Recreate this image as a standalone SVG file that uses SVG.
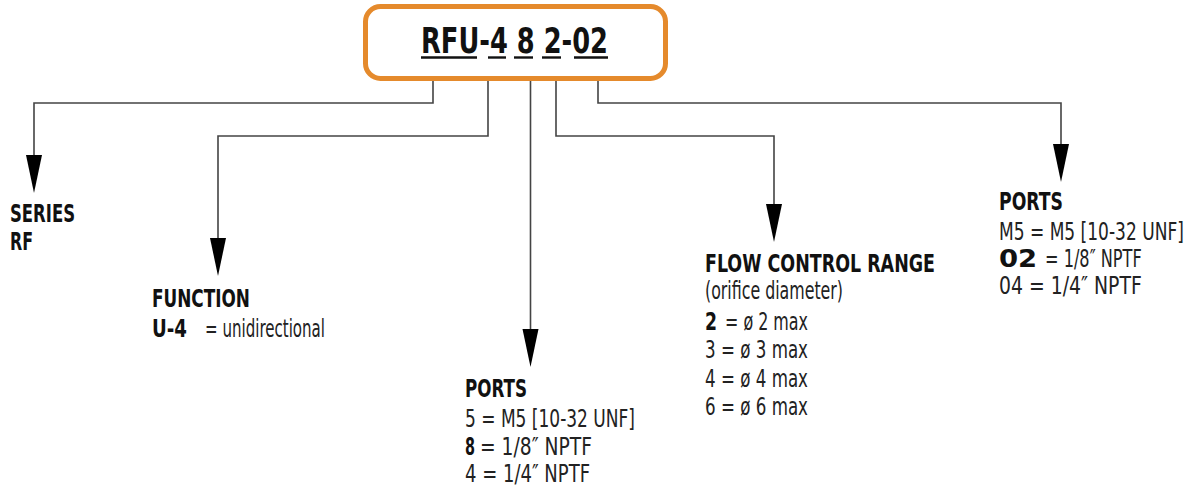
<svg xmlns="http://www.w3.org/2000/svg" width="1199" height="493" viewBox="0 0 1199 493">
<style>
text{font-family:"Liberation Sans Narrow","DejaVu Sans Condensed","Liberation Sans",sans-serif;font-size:24.5px;fill:#111}
.b{font-weight:bold}
.r{font-weight:normal;fill:#222}
.t{font-weight:bold;font-size:36px;fill:#111}
.conn{fill:none;stroke:#444;stroke-width:1.6}
.ul{stroke:#111;stroke-width:2.4}
</style>
<defs>
<marker id="ah" markerUnits="userSpaceOnUse" markerWidth="40" markerHeight="18" viewBox="0 -9 40 18" refX="18" refY="0" orient="auto">
<path d="M0,-8 L38,0 L0,8 Z" fill="#000"/>
</marker>
</defs>
<rect width="1199" height="493" fill="#fff"/>
<g id="connectors">
<path class="conn" d="M433,80 V103 H34 V173" marker-end="url(#ah)"/>
<path class="conn" d="M488,80 V136 H218 V256" marker-end="url(#ah)"/>
<path class="conn" d="M530.5,80 V347" marker-end="url(#ah)"/>
<path class="conn" d="M556,80 V136 H774 V222" marker-end="url(#ah)"/>
<path class="conn" d="M598,80 V103 H1061 V162" marker-end="url(#ah)"/>
</g>
<g id="title">
<rect x="365.5" y="6.5" width="300" height="72" rx="15" fill="#fff" stroke="#E58A2C" stroke-width="5"/>
<text class="t" x="421" y="53" textLength="187" lengthAdjust="spacingAndGlyphs">RFU-4 8 2-02</text>
<line class="ul" x1="421" y1="57.5" x2="477" y2="57.5"/>
<line class="ul" x1="488" y1="57.5" x2="506" y2="57.5"/>
<line class="ul" x1="514" y1="57.5" x2="533" y2="57.5"/>
<line class="ul" x1="542" y1="57.5" x2="561" y2="57.5"/>
<line class="ul" x1="574" y1="57.5" x2="608" y2="57.5"/>
</g>
<g id="series">
<text class="b" x="10" y="222" textLength="65" lengthAdjust="spacingAndGlyphs">SERIES</text>
<text class="b" x="10" y="250" textLength="23" lengthAdjust="spacingAndGlyphs">RF</text>
</g>
<g id="function">
<text class="b" x="152" y="307" textLength="98" lengthAdjust="spacingAndGlyphs">FUNCTION</text>
<text class="b" x="152" y="337" textLength="35" lengthAdjust="spacingAndGlyphs">U-4</text>
<text class="r" x="205" y="337" textLength="120" lengthAdjust="spacingAndGlyphs">= unidirectional</text>
</g>
<g id="ports-mid">
<text class="b" x="465" y="397" textLength="62" lengthAdjust="spacingAndGlyphs">PORTS</text>
<text class="r" x="465" y="427" textLength="170" lengthAdjust="spacingAndGlyphs">5 = M5 [10-32 UNF]</text>
<text class="b" x="465" y="455" textLength="10" lengthAdjust="spacingAndGlyphs">8</text>
<text class="r" x="480" y="455" textLength="112" lengthAdjust="spacingAndGlyphs">= 1/8″ NPTF</text>
<text class="r" x="465" y="482" textLength="125" lengthAdjust="spacingAndGlyphs">4 = 1/4″ NPTF</text>
</g>
<g id="flow">
<text class="b" x="705" y="272" textLength="230" lengthAdjust="spacingAndGlyphs">FLOW CONTROL RANGE</text>
<text class="r" x="705" y="299" textLength="138" lengthAdjust="spacingAndGlyphs">(orifice diameter)</text>
<text class="b" x="705" y="330" textLength="12" lengthAdjust="spacingAndGlyphs">2</text>
<text class="r" x="725" y="330" textLength="83" lengthAdjust="spacingAndGlyphs">= ø 2 max</text>
<text class="r" x="705" y="358" textLength="103" lengthAdjust="spacingAndGlyphs">3 = ø 3 max</text>
<text class="r" x="705" y="387" textLength="103" lengthAdjust="spacingAndGlyphs">4 = ø 4 max</text>
<text class="r" x="705" y="415" textLength="103" lengthAdjust="spacingAndGlyphs">6 = ø 6 max</text>
</g>
<g id="ports-right" transform="translate(999,0) scale(0.78,1)">
<text class="b" x="0" y="210" textLength="82" lengthAdjust="spacingAndGlyphs">PORTS</text>
<text class="r" x="0" y="240" textLength="237" lengthAdjust="spacingAndGlyphs">M5 = M5 [10-32 UNF]</text>
<text class="b" x="0" y="267" textLength="49" lengthAdjust="spacingAndGlyphs">02</text>
<text class="r" x="59" y="267" textLength="124" lengthAdjust="spacingAndGlyphs">= 1/8″ NPTF</text>
<text class="r" x="0" y="294" textLength="183" lengthAdjust="spacingAndGlyphs">04 = 1/4″ NPTF</text>
</g>
</svg>
